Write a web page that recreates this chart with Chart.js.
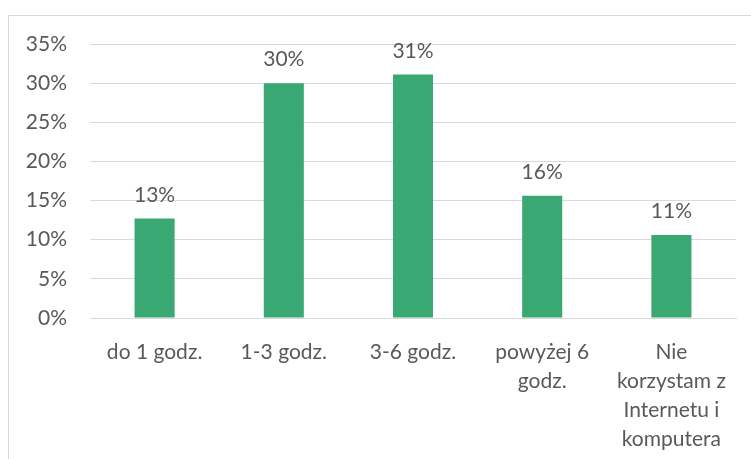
<!DOCTYPE html>
<html>
<head>
<meta charset="utf-8">
<script src="https://cdn.jsdelivr.net/npm/chart.js@4/dist/chart.umd.min.js"></script>
<style>
  body { margin: 0; background: #fff; }
  #frame { position: absolute; left: 8px; top: 15px; width: 800px; height: 500px; border: 1px solid #d9d9d9; }
  #wrap { position: absolute; left: 0; top: 0; width: 751px; height: 459px; }
</style>
</head>
<body>
<div id="frame"></div>
<div id="wrap"><canvas id="chart" width="751" height="459"></canvas></div>
<script>
// chart data
const categories = [
    ['do 1 godz.'],
    ['1-3 godz.'],
    ['3-6 godz.'],
    ['powyżej 6', 'godz.'],
    ['Nie', 'korzystam z', 'Internetu i', 'komputera']
];
const shares = [12.7, 30.0, 31.1, 15.6, 10.6];
const yTicks = [0, 5, 10, 15, 20, 25, 30, 35];

const textColor = '#595959';
const fontFamily = 'Lato, "Open Sans", sans-serif';

// draws the value above each bar
const valueLabels = {
    id: 'valueLabels',
    afterDatasetsDraw(chart) {
        const ctx = chart.ctx;
        const meta = chart.getDatasetMeta(0);
        ctx.save();
        ctx.font = '21px ' + fontFamily;
        ctx.fillStyle = textColor;
        ctx.textAlign = 'center';
        ctx.textBaseline = 'bottom';
        meta.data.forEach((bar, i) => {
            ctx.fillText(Math.round(shares[i]) + '%', bar.x, bar.y - 13);
        });
        ctx.restore();
    }
};

new Chart(document.getElementById('chart'), {
    type: 'bar',
    data: {
        labels: categories,
        datasets: [{
            data: shares,
            backgroundColor: '#3aa873',
            barPercentage: 0.31,
            categoryPercentage: 1
        }]
    },
    options: {
        responsive: false,
        animation: false,
        layout: { padding: { top: 44, right: 15, bottom: 0, left: 0 } },
        plugins: { legend: { display: false }, tooltip: { enabled: false } },
        scales: {
            x: {
                grid: { display: false, drawTicks: false },
                border: { color: '#d9d9d9' },
                ticks: {
                    color: textColor,
                    font: { family: fontFamily, size: 21, lineHeight: 1.38 },
                    padding: 20,
                    maxRotation: 0,
                    autoSkip: false
                },
                afterFit(scale) { scale.height = 141; }
            },
            y: {
                min: 0,
                max: 35,
                afterBuildTicks(scale) { scale.ticks = yTicks.map(v => ({ value: v })); },
                grid: { color: '#d9d9d9', drawTicks: false },
                border: { display: false },
                ticks: {
                    color: textColor,
                    font: { family: fontFamily, size: 21 },
                    padding: 23,
                    callback: v => v + '%'
                },
                afterFit(scale) { scale.width = 90; }
            }
        }
    },
    plugins: [valueLabels]
});
</script>
</body>
</html>
